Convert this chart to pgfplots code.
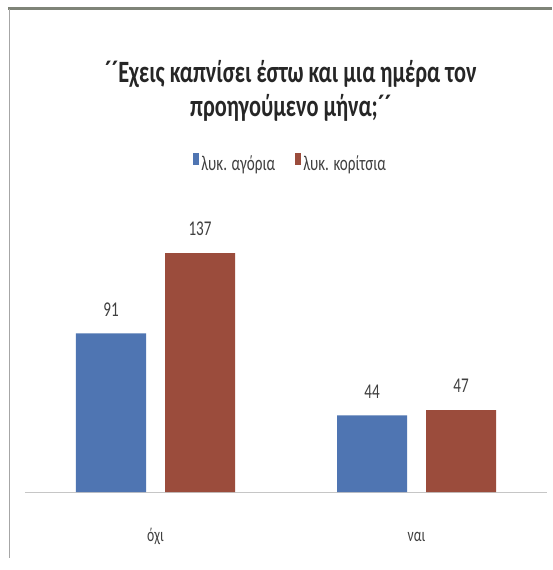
\documentclass[border=0pt]{standalone}
\usepackage{pgfplots}
\pgfplotsset{compat=1.18}
\usepackage{fontspec}
\setmainfont{Carlito}[FakeStretch=0.72]
\definecolor{cblue}{RGB}{79,117,178}
\definecolor{cred}{RGB}{155,76,60}
\definecolor{txt}{RGB}{38,38,38}
\definecolor{lbl}{RGB}{64,64,64}
\definecolor{frame}{RGB}{127,132,120}
\begin{document}
\begin{tikzpicture}
\useasboundingbox (0,0) rectangle (552pt,570pt);
\fill[white] (0,0) rectangle (552pt,570pt);
\draw[line width=3pt, color=frame] (8pt,561pt) -- (552pt,561pt);
\draw[line width=1.5pt, color=gray!70] (9.5pt,561pt) -- (9.5pt,12pt);
\begin{axis}[
  at={(25pt,78pt)}, anchor=south west, scale only axis,
  width=522pt, height=279pt,
  xmin=-0.5, xmax=1.5, ymin=0, ymax=160,
  ybar=19pt, bar width=70pt,
  /pgf/number format/assume math mode=true,
  axis x line=bottom, axis y line=none,
  x axis line style={-, draw=gray!45, line width=0.8pt},
  xtick={0,1}, xticklabels={όχι, ναι},
  xtick style={draw=none}, major tick length=0pt,
  xticklabel style={font=\fontsize{19}{22}\selectfont, text=lbl, anchor=base, yshift=-49pt},
  nodes near coords,
  nodes near coords style={font=\fontsize{21}{24}\selectfont, text=lbl, anchor=south, inner sep=0pt, yshift=17pt},
  legend columns=2,
  legend style={draw=none, fill=none, at={(axis description cs:0.509,1.176)}, anchor=center,
    font=\fontsize{21}{24}\selectfont, text=lbl,
    /tikz/every even column/.append style={column sep=18pt}},
  legend image code/.code={\fill[#1] (0pt,-1pt) rectangle (6pt,11pt);},
  title={´´Εχεις καπνίσει έστω και μια ημέρα τον\\προηγούμενο μήνα;´´},
  title style={font=\bfseries\fontsize{31}{34.5}\selectfont, text=txt, align=center,
    inner sep=0pt, at={(axis description cs:0.509,1.527)}, anchor=north},
]
\addplot[fill=cblue, draw=none] coordinates {(0,91) (1,44)};
\addplot[fill=cred, draw=none] coordinates {(0,137) (1,47)};
\legend{λυκ. αγόρια, λυκ. κορίτσια}
\end{axis}
\end{tikzpicture}
\end{document}
